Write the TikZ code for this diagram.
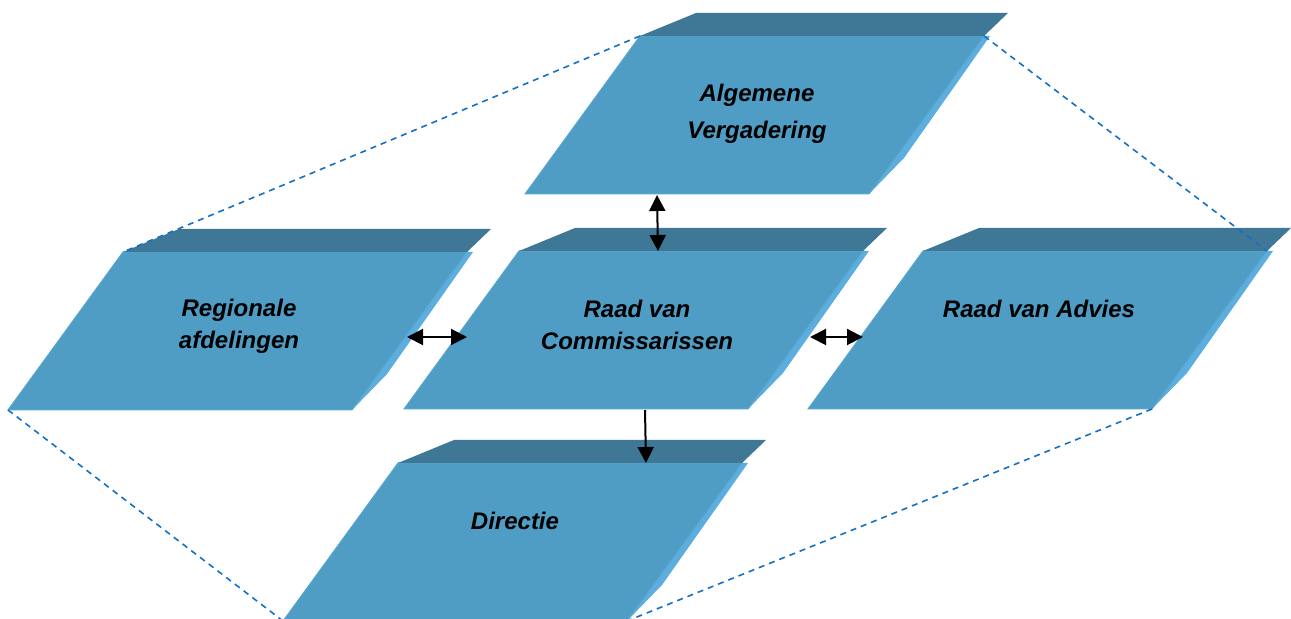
\documentclass[tikz,border=0pt]{standalone}
\usepackage{fontspec}
\setmainfont{Liberation Sans}
\usetikzlibrary{arrows.meta}
\definecolor{frontc}{RGB}{79,156,197}
\definecolor{frontedge}{RGB}{88,166,208}
\definecolor{bandc}{RGB}{62,120,150}
\definecolor{sidec}{RGB}{92,174,222}
\definecolor{dashc}{RGB}{20,112,196}
\newcommand\slab[2]{%
  \fill[sidec] ({#1+344},{#2}) -- ({#1+350},{#2}) -- ({#1+264},{#2+122}) -- ({#1+229},{#2+158}) -- cycle;
  \filldraw[fill=frontc,draw=frontedge,line width=0.5pt] ({#1},{#2}) -- ({#1+344},{#2}) -- ({#1+229},{#2+158}) -- ({#1-115},{#2+158}) -- cycle;
  \fill[bandc] ({#1},{#2}) -- ({#1+56},{#2-23}) -- ({#1+368},{#2-23}) -- ({#1+344},{#2}) -- cycle;
}
\begin{document}
\begin{tikzpicture}[x=0.5pt,y=-0.5pt,
  lbl/.style={font=\fontsize{12}{15.8}\selectfont\bfseries\itshape, align=center, inner sep=0pt},
  guide/.style={draw=dashc, line width=0.8pt, dash pattern=on 3pt off 2.5pt},
  link/.style={draw=black, line width=1pt, {Triangle[length=8pt,width=8pt]}-{Triangle[length=8pt,width=8pt]}},
  down/.style={draw=black, line width=1pt, -{Triangle[length=8pt,width=8pt]}}]
\useasboundingbox (0,0) rectangle (1291,619);
\clip (0,0) rectangle (1291,619);
% slabs
\slab{640}{36}
\slab{123}{252}
\slab{519}{251}
\slab{923}{251}
\slab{398}{463}
% labels
\node[lbl, font=\fontsize{12}{18.8}\selectfont\bfseries\itshape] (av) at (757,114) {Algemene\\Vergadering};
\node[lbl] (reg) at (239,326) {Regionale\\afdelingen};
\node[lbl] (rvc) at (637,325) {Raad van\\Commissarissen};
\node[lbl] (rva) at (1039,309) {Raad van Advies};
\node[lbl] (dir) at (515,521) {Directie};
% guide corners
\coordinate (avTL) at (640,36);
\coordinate (avTR) at (984,36);
\coordinate (regTL) at (123,252);
\coordinate (regBL) at (8,410);
\coordinate (rvaTR) at (1267,251);
\coordinate (rvaBR) at (1152,409);
\coordinate (dirBL) at (283,621);
\coordinate (dirBR) at (627,621);
\draw[guide] (avTL) -- (regTL);
\draw[guide] (avTR) -- (rvaTR);
\draw[guide] (regBL) -- (dirBL);
\draw[guide] (rvaBR) -- (dirBR);
% connector ends
\coordinate (avB) at (657,195);
\coordinate (rvcT) at (658,251);
\coordinate (regR) at (407,337);
\coordinate (rvcL) at (467,337);
\coordinate (rvcR) at (810,337);
\coordinate (rvaL) at (863,337);
\coordinate (rvcB) at (645,410);
\coordinate (dirT) at (646,463);
\draw[link] (avB) -- (rvcT);
\draw[link] (regR) -- (rvcL);
\draw[link] (rvcR) -- (rvaL);
\draw[down] (rvcB) -- (dirT);
\end{tikzpicture}
\end{document}
